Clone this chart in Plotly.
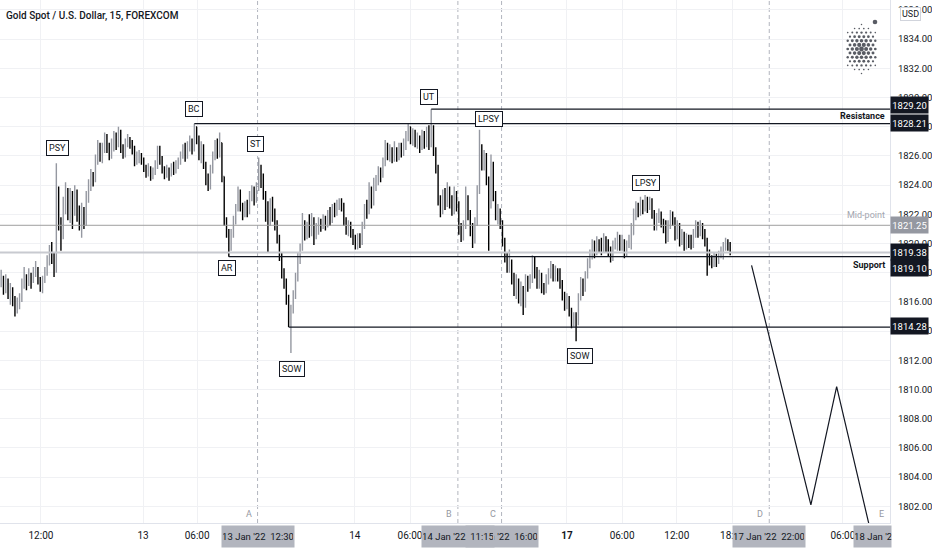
import plotly.graph_objects as go

# ---------------- data ----------------
first_open = 1817.2
close = [
 1817.6,1817.0,1817.4,1816.5,1816.8,1816.0,1815.5,1815.9,1816.1,1817.2,
 1817.6,1817.3,1817.8,1817.5,1818.0,1818.3,1817.6,1817.0,1817.4,1818.0,
 1818.8,1819.5,1819.0,1818.6,1823.6,1821.2,1820.6,1822.6,1823.4,1822.0,
 1823.2,1822.4,1823.5,1822.1,1821.3,1822.2,1821.4,1823.0,1823.8,1824.6,
 1824.3,1825.6,1826.6,1826.0,1826.5,1827.1,1826.7,1826.0,1826.8,1827.2,
 1826.8,1827.5,1826.5,1826.0,1826.8,1827.2,1826.9,1826.5,1825.6,1825.9,
 1826.0,1825.7,1825.2,1824.8,1825.1,1824.6,1824.9,1825.3,1826.3,1825.8,
 1825.0,1824.6,1825.0,1824.7,1825.2,1824.9,1825.3,1825.6,1826.0,1826.5,
 1825.9,1826.6,1827.0,1826.4,1828.0,1827.2,1826.0,1826.6,1825.5,1824.3,
 1824.0,1825.0,1826.0,1826.8,1826.2,1826.9,1824.6,1821.6,1820.8,1819.8,
 1820.6,1821.5,1822.3,1823.5,1822.6,1822.0,1822.6,1822.2,1823.2,1823.6,
 1823.0,1823.7,1825.0,1824.6,1823.4,1822.0,1821.4,1822.6,1822.0,1821.2,
 1820.4,1819.2,1818.0,1817.4,1816.2,1814.5,1815.4,1816.4,1817.6,1818.8,
 1819.6,1821.4,1820.6,1821.1,1820.7,1821.7,1820.6,1821.0,1821.4,1821.2,
 1821.6,1821.3,1822.0,1821.7,1822.4,1822.1,1822.6,1823.0,1822.6,1821.6,
 1820.9,1821.3,1820.7,1820.2,1819.8,1820.4,1820.0,1821.2,1822.3,1822.1,
 1823.6,1822.8,1824.0,1824.4,1824.8,1824.6,1825.5,1826.6,1826.0,1826.4,
 1825.8,1826.3,1825.9,1826.6,1826.2,1826.8,1827.4,1828.0,1827.1,1827.6,
 1826.9,1827.2,1826.6,1827.4,1826.8,1827.6,1827.0,1827.8,1826.4,1825.3,
 1823.0,1822.2,1823.3,1822.6,1823.6,1822.8,1822.3,1823.4,1822.6,1821.0,
 1820.4,1821.2,1823.2,1822.0,1821.0,1820.2,1821.4,1823.6,1826.6,1825.4,
 1826.0,1824.4,1822.6,1825.2,1823.4,1822.0,1822.2,1821.4,1820.2,1819.0,
 1818.3,1818.8,1817.6,1816.8,1817.3,1816.3,1816.9,1815.8,1817.6,1817.1,
 1817.5,1818.6,1818.0,1817.3,1817.8,1817.0,1816.8,1817.5,1818.0,1818.4,
 1817.7,1818.2,1817.8,1817.3,1816.5,1815.8,1816.3,1815.4,1814.6,1815.0,
 1814.5,1816.3,1817.3,1816.8,1817.8,1818.6,1819.3,1819.9,1819.4,1820.2,
 1819.8,1819.6,1820.3,1820.0,1819.5,1819.0,1819.8,1820.1,1820.5,1819.8,
 1820.2,1819.4,1819.8,1820.2,1820.6,1821.9,1822.5,1822.1,1822.8,1822.4,
 1823.0,1822.5,1823.0,1822.1,1821.2,1821.7,1822.0,1821.5,1821.0,1820.3,
 1821.2,1822.0,1821.6,1820.6,1821.2,1820.2,1820.6,1819.9,1820.4,1820.1,
 1819.9,1820.6,1821.3,1820.8,1821.2,1820.7,1820.2,1819.3,1818.9,1818.6,
 1819.0,1818.7,1819.1,1819.4,1819.7,1820.1,1819.8,1819.38,
]
high = [
 1818.2,1817.8,1817.9,1817.6,1817.3,1817.0,1816.4,1816.3,1816.6,1817.6,
 1818.4,1817.9,1818.3,1818.0,1818.4,1818.8,1818.4,1817.7,1817.8,1818.4,
 1819.2,1819.9,1820.1,1819.4,1825.5,1823.9,1821.8,1823.2,1824.2,1823.8,
 1823.8,1823.6,1824.0,1823.7,1822.6,1822.8,1822.5,1823.6,1824.4,1825.1,
 1824.9,1826.1,1827.1,1826.9,1826.9,1827.6,1827.5,1826.9,1827.2,1827.7,
 1827.6,1828.0,1827.8,1826.8,1827.2,1827.5,1827.3,1827.1,1826.7,1826.3,
 1826.4,1826.2,1825.9,1825.4,1825.5,1825.3,1825.2,1825.7,1826.7,1826.7,
 1826.0,1825.3,1825.4,1825.2,1825.5,1825.6,1825.7,1825.9,1826.3,1826.8,
 1826.9,1827.0,1827.4,1827.2,1828.21,1828.0,1827.4,1827.0,1826.8,1825.6,
 1824.8,1825.4,1826.3,1827.1,1827.2,1827.6,1826.9,1824.6,1821.8,1821.0,
 1821.0,1821.9,1822.7,1823.9,1823.7,1822.8,1822.9,1823.0,1823.6,1824.0,
 1823.9,1824.2,1825.9,1825.4,1824.8,1823.6,1822.9,1823.1,1823.2,1822.4,
 1821.6,1820.6,1819.4,1818.3,1817.6,1816.5,1815.8,1816.8,1818.0,1819.4,
 1820.0,1822.1,1821.6,1821.5,1822.0,1822.1,1821.8,1821.4,1821.8,1821.7,
 1822.0,1821.9,1822.3,1822.5,1822.7,1822.8,1823.0,1823.1,1823.1,1822.8,
 1821.8,1821.6,1821.5,1821.0,1820.6,1820.7,1820.7,1821.5,1822.7,1823.0,
 1824.2,1823.9,1824.5,1824.7,1825.3,1825.2,1825.9,1827.1,1826.9,1826.8,
 1826.6,1827.0,1826.6,1826.9,1826.9,1827.2,1827.7,1828.2,1828.0,1827.9,
 1827.8,1827.6,1827.4,1827.8,1827.7,1828.0,1828.1,1829.20,1828.1,1826.6,
 1825.4,1823.3,1823.7,1823.8,1824.2,1823.9,1823.3,1823.9,1823.6,1822.9,
 1821.4,1821.6,1823.9,1823.3,1822.3,1821.4,1821.8,1824.0,1827.8,1826.8,
 1826.4,1826.2,1824.6,1826.1,1825.6,1823.6,1822.7,1822.4,1821.6,1820.4,
 1819.4,1819.6,1818.9,1818.0,1817.9,1817.6,1817.4,1817.1,1817.9,1817.8,
 1817.9,1819.2,1819.1,1818.4,1818.2,1818.0,1817.3,1817.9,1818.3,1818.8,
 1818.6,1818.5,1818.3,1818.3,1817.5,1816.7,1816.6,1816.4,1815.6,1815.3,
 1815.3,1816.6,1817.7,1817.6,1818.1,1819.0,1819.6,1820.3,1820.2,1820.5,
 1820.3,1820.4,1820.7,1820.5,1820.3,1819.8,1820.2,1820.4,1820.8,1820.6,
 1820.6,1820.3,1820.2,1820.6,1821.4,1822.4,1822.9,1822.8,1823.2,1823.0,
 1823.33,1823.2,1823.2,1823.1,1822.3,1822.1,1822.4,1822.2,1821.7,1821.6,
 1821.6,1822.3,1822.2,1821.8,1821.6,1821.4,1821.0,1820.8,1820.7,1820.6,
 1820.6,1821.0,1821.6,1821.5,1821.6,1821.4,1821.0,1820.4,1819.6,1819.2,
 1819.4,1819.3,1819.5,1819.8,1820.1,1820.4,1820.3,1820.1,
]
low = [
 1817.0,1816.5,1816.6,1816.2,1815.8,1815.7,1815.0,1815.2,1815.5,1816.0,
 1816.9,1816.8,1817.1,1816.9,1817.3,1817.7,1817.2,1816.7,1816.6,1817.3,
 1817.8,1818.5,1818.6,1817.7,1818.0,1820.9,1819.5,1820.3,1822.0,1821.6,
 1821.4,1821.0,1821.9,1821.5,1820.9,1820.4,1821.0,1821.2,1822.8,1823.6,
 1823.9,1824.2,1825.4,1825.6,1825.5,1826.2,1826.2,1825.7,1825.8,1826.3,
 1826.4,1826.6,1826.2,1825.8,1825.9,1826.6,1826.5,1826.1,1825.3,1825.4,
 1825.5,1825.4,1824.9,1824.5,1824.6,1824.3,1824.4,1824.7,1825.1,1825.4,
 1824.8,1824.4,1824.5,1824.3,1824.6,1824.7,1824.8,1825.1,1825.4,1825.8,
 1825.6,1825.8,1826.3,1826.1,1826.3,1826.8,1825.7,1825.5,1825.1,1824.0,
 1823.6,1823.7,1824.8,1825.7,1825.8,1825.9,1824.2,1821.2,1820.4,1819.10,
 1819.5,1820.4,1821.3,1822.2,1822.2,1821.6,1821.8,1821.8,1822.0,1822.9,
 1822.6,1822.8,1823.6,1823.8,1823.0,1821.5,1819.4,1821.2,1821.5,1820.9,
 1820.0,1818.8,1817.6,1816.9,1815.8,1814.28,1812.5,1815.2,1816.2,1817.4,
 1818.6,1819.5,1820.2,1820.3,1820.4,1820.5,1819.9,1820.3,1820.6,1820.8,
 1821.0,1820.9,1821.1,1821.2,1821.4,1821.8,1821.9,1822.3,1822.2,1821.2,
 1820.6,1820.5,1820.4,1819.9,1819.6,1819.6,1819.7,1819.9,1821.0,1821.7,
 1822.0,1822.4,1822.6,1823.6,1824.0,1824.2,1824.5,1825.3,1825.7,1825.6,
 1825.5,1825.6,1825.6,1825.7,1825.9,1826.0,1826.4,1827.0,1826.8,1826.7,
 1826.6,1826.5,1826.2,1826.4,1826.5,1826.6,1826.4,1826.6,1826.0,1824.8,
 1822.6,1821.8,1822.0,1822.3,1822.5,1822.4,1821.9,1822.0,1822.2,1820.6,
 1820.1,1820.2,1821.0,1821.6,1820.5,1819.7,1820.0,1821.2,1823.4,1825.0,
 1825.0,1824.0,1819.5,1822.4,1822.9,1821.6,1821.3,1821.0,1819.8,1818.7,
 1818.0,1818.0,1817.2,1816.4,1816.2,1815.9,1815.7,1815.1,1815.6,1816.7,
 1816.9,1817.3,1817.6,1816.9,1816.9,1816.6,1816.5,1816.6,1817.2,1817.6,
 1817.4,1817.4,1817.4,1816.9,1816.1,1815.4,1815.5,1815.0,1814.2,1814.3,
 1813.3,1814.4,1816.1,1816.4,1816.7,1817.6,1818.3,1818.9,1819.0,1819.2,
 1819.4,1819.2,1819.4,1819.4,1819.1,1818.7,1818.8,1819.6,1819.5,1819.5,
 1819.5,1819.0,1819.1,1819.7,1819.6,1820.6,1821.6,1821.8,1821.9,1822.0,
 1822.2,1822.1,1822.3,1821.7,1820.9,1820.9,1821.4,1821.1,1820.7,1820.0,
 1820.1,1821.0,1821.2,1820.2,1820.3,1819.8,1819.9,1819.5,1819.6,1819.7,
 1819.6,1819.7,1820.4,1820.4,1820.5,1820.3,1819.8,1817.8,1818.5,1818.3,
 1818.4,1818.4,1818.6,1819.0,1818.9,1819.5,1819.5,1819.2,
]

# x-axis time labels (bar positions on the 15-min bar scale)
tick_labels = ["12:00", "13", "06:00", "14", "06:00", "<b>17</b>", "06:00", "12:00", "18:00", "06:00"]
tick_bars = [17.3, 61.7, 85.2, 153.8, 177.8, 246.0, 270.0, 293.8, 318.0, 366.0]

# Wyckoff event labels
event_labels = ["PSY", "BC", "AR", "ST", "SOW", "UT", "LPSY", "SOW", "LPSY"]
event_bars = [24.7, 83.8, 98.2, 110.8, 126.5, 186.0, 212.1, 251.7, 280.4]
event_prices = [1826.55, 1829.22, 1818.33, 1826.82, 1811.41, 1830.04, 1828.53, 1812.30, 1824.15]

# horizontal levels
level_prices = [1829.20, 1828.21, 1819.10, 1814.28]
level_start_bars = [187, 84, 99, 125]
mid_point = 1821.25
last_price = 1819.38

# projected path
proj_bars = [326.3, 352.1, 363.3, 378.5]
proj_prices = [1818.5, 1802.1, 1810.2, 1800.0]

# vertical time markers
marker_names = ["A", "B", "C", "D", "E"]
marker_bars = [111.5, 198.6, 217.6, 334.0, 387.0]
marker_times = ["13 Jan '22  12:30", "14 Jan '22  11:15", "14 Jan '22  16:00",
                "17 Jan '22  22:00", "18 Jan '22  11:15"]

# ---------------- figure ----------------
FONT = "Roboto, Liberation Sans, sans-serif"
TXT = "#131722"
X_MAX = 386.5
Y_RANGE = [1800.86, 1836.68]

open_ = [first_open] + close[:-1]
hi = [max(h, o, c) for h, o, c in zip(high, open_, close)]
lo = [min(l, o, c) for l, o, c in zip(low, open_, close)]
xs = list(range(len(close)))

fig = go.Figure()

fig.add_trace(go.Ohlc(
    x=xs, open=open_, high=hi, low=lo, close=close,
    increasing=dict(line=dict(color="#9598a1", width=1.4)),
    decreasing=dict(line=dict(color="#000000", width=1.4)),
    tickwidth=0.3, hoverinfo="skip", showlegend=False,
))

fig.add_trace(go.Scatter(
    x=proj_bars, y=proj_prices, mode="lines",
    line=dict(color="#131722", width=1.2), hoverinfo="skip", showlegend=False,
))

shapes = []
for b in marker_bars[:4]:
    shapes.append(dict(type="line", xref="x", yref="paper", x0=b, x1=b, y0=0, y1=1,
                       line=dict(color="#b2b5be", width=1, dash="4px,3px"), layer="below"))
shapes.append(dict(type="line", xref="paper", yref="y", x0=0, x1=1, y0=mid_point, y1=mid_point,
                   line=dict(color="#9e9e9e", width=1)))
shapes.append(dict(type="line", xref="paper", yref="y", x0=0, x1=1, y0=last_price, y1=last_price,
                   line=dict(color="#c8cad0", width=2)))
for p, b in zip(level_prices, level_start_bars):
    shapes.append(dict(type="line", xref="x", yref="y", x0=b, x1=X_MAX, y0=p, y1=p,
                       line=dict(color="#131722", width=1.2)))

ann = []
ann.append(dict(text="Gold Spot / U.S. Dollar, 15, FOREXCOM", xref="paper", yref="paper",
                x=0, y=1, xanchor="left", yanchor="top", xshift=4, yshift=-8, showarrow=False,
                font=dict(family=FONT, size=10, color=TXT, weight=500)))
for t, b, p in zip(event_labels, event_bars, event_prices):
    ann.append(dict(text=t, x=b, y=p, xref="x", yref="y", showarrow=False,
                    bgcolor="white", bordercolor="#131722", borderwidth=1, borderpad=2,
                    font=dict(family=FONT, size=9, color=TXT)))
ann.append(dict(text="<b>Resistance</b>", xref="paper", yref="y", x=1, y=level_prices[1],
                xanchor="right", yanchor="bottom", xshift=-3, yshift=1, showarrow=False,
                font=dict(family=FONT, size=9, color=TXT)))
ann.append(dict(text="Mid-point", xref="paper", yref="y", x=1, y=mid_point,
                xanchor="right", yanchor="bottom", xshift=-3, yshift=3, showarrow=False,
                font=dict(family=FONT, size=9, color="#a3a6af")))
ann.append(dict(text="<b>Support</b>", xref="paper", yref="y", x=1, y=level_prices[2],
                xanchor="right", yanchor="top", xshift=-3, yshift=-1, showarrow=False,
                font=dict(family=FONT, size=9, color=TXT)))
axis_boxes = [(level_prices[0], 4, "#131722"), (level_prices[1], 1, "#131722"),
              (mid_point, 0, "#9598a1"), (last_price, 1, "#131722"),
              (level_prices[2], -11, "#131722"), (level_prices[3], 1, "#131722")]
for p, ys, bg in axis_boxes:
    ann.append(dict(text=f"{p:.2f}", xref="paper", yref="y", x=1, y=p, xanchor="left",
                    yanchor="middle", yshift=ys, showarrow=False, bgcolor=bg, width=35, height=14,
                    borderpad=1, font=dict(family=FONT, size=9.5, color="white")))
ann.append(dict(text="USD", xref="paper", yref="paper", x=1, y=1, xanchor="left", yanchor="top",
                xshift=10, yshift=-7, showarrow=False, bgcolor="white", bordercolor="#d1d4dc",
                borderwidth=1, borderpad=1, font=dict(family=FONT, size=9, color=TXT)))
# time marker letters
for n, b in zip(marker_names[:4], marker_bars[:4]):
    ann.append(dict(text=n, x=b, xref="x", yref="paper", y=0, xanchor="right", yanchor="bottom",
                    xshift=-4, yshift=2, showarrow=False, font=dict(family=FONT, size=9, color="#9598a1")))
ann.append(dict(text=marker_names[4], x=1, xref="paper", yref="paper", y=0, xanchor="right",
                yanchor="bottom", xshift=-4, yshift=2, showarrow=False,
                font=dict(family=FONT, size=9, color="#9598a1")))
# time marker boxes
for i in [2, 0, 1, 3]:
    ann.append(dict(text=marker_times[i], x=marker_bars[i], xref="x", yref="paper", y=0,
                    xanchor="center", yanchor="top", yshift=-2, showarrow=False,
                    bgcolor="#b2b5be", width=70, height=19, borderpad=1,
                    font=dict(family=FONT, size=9.5, color=TXT)))
ann.append(dict(text=marker_times[4], x=1, xref="paper", yref="paper", y=0,
                xanchor="center", yanchor="top", yshift=-2, showarrow=False,
                bgcolor="#b2b5be", width=70, height=19, borderpad=1,
                font=dict(family=FONT, size=9.5, color=TXT)))
# white price-column cover at the bottom right
ann.append(dict(text="", xref="paper", yref="paper", x=1, y=0, xanchor="left", yanchor="top",
                xshift=1, yshift=-1, showarrow=False, bgcolor="white", width=44, height=26))

# decorative logo (hex of dots), drawn in pixel space on an overlay axis
logo_x, logo_y, logo_s = [], [], []
cx, cy = 861.5, 49.0
for r in range(-6, 7):
    for c in range(-4, 5):
        px = c * 4.6 + (2.3 if r % 2 else 0.0)
        py = r * 4.1
        if abs(px) <= 15.5 and abs(py) + 0.6 * abs(px) <= 25:
            d = (px * px + py * py) ** 0.5
            logo_x.append(cx + px)
            logo_y.append(cy + py)
            logo_s.append(max(1.5, 4.8 - 0.15 * d))
logo_x.append(875.0); logo_y.append(22.0); logo_s.append(4.6)
fig.add_trace(go.Scatter(x=logo_x, y=logo_y, mode="markers", xaxis="x2", yaxis="y2",
                         marker=dict(color="#131722", size=logo_s, line=dict(width=0)),
                         hoverinfo="skip", showlegend=False))

fig.update_layout(
    width=932, height=550, margin=dict(l=0, r=42, t=0, b=27),
    paper_bgcolor="white", plot_bgcolor="white",
    font=dict(family=FONT, size=10, color=TXT),
    showlegend=False, shapes=shapes, annotations=ann,
    xaxis=dict(range=[-0.5, X_MAX], tickvals=tick_bars, ticktext=tick_labels,
               showgrid=True, gridcolor="#f0f1f4", zeroline=False, showline=True,
               linecolor="#e0e3eb", ticks="", ticklabelstandoff=3, rangeslider=dict(visible=False),
               tickfont=dict(family=FONT, size=10, color=TXT)),
    yaxis=dict(side="right", range=Y_RANGE, tick0=1800, dtick=2, tickformat=".2f",
               showgrid=True, gridcolor="#f0f1f4", zeroline=False, showline=True,
               linecolor="#e0e3eb", ticks="", ticklabelstandoff=5,
               tickfont=dict(family=FONT, size=9.5, color=TXT)),
    xaxis2=dict(overlaying="x", range=[0, 890], visible=False, anchor="y2"),
    yaxis2=dict(overlaying="y", range=[523, 0], visible=False, anchor="x2"),
)

fig.write_html("out.html", config={"displayModeBar": False},
               post_script="document.body.style.margin='0px';")
